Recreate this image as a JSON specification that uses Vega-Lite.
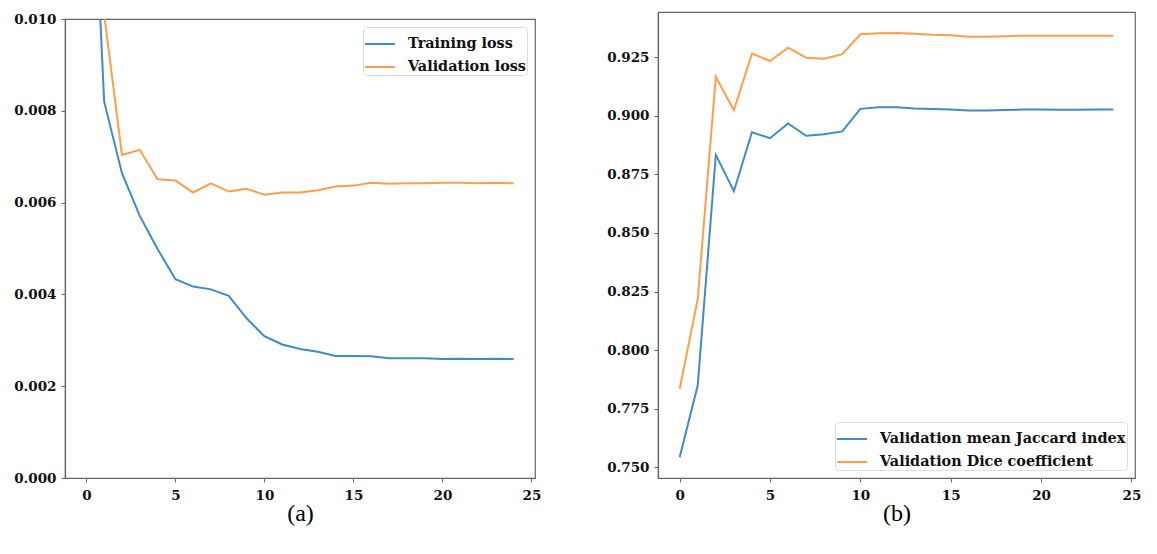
{
  "$schema": "https://vega.github.io/schema/vega-lite/v6.json",
  "padding": {"left": 13, "top": 11, "right": 0, "bottom": 0},
  "background": "white",
  "spacing": 64,
  "datasets": {
    "loss": [
      {"epoch": 0, "series": "Training loss", "value": 0.0165},
      {"epoch": 1, "series": "Training loss", "value": 0.0082},
      {"epoch": 2, "series": "Training loss", "value": 0.00664},
      {"epoch": 3, "series": "Training loss", "value": 0.00571},
      {"epoch": 4, "series": "Training loss", "value": 0.00499},
      {"epoch": 5, "series": "Training loss", "value": 0.00433},
      {"epoch": 6, "series": "Training loss", "value": 0.00417},
      {"epoch": 7, "series": "Training loss", "value": 0.00411},
      {"epoch": 8, "series": "Training loss", "value": 0.00397},
      {"epoch": 9, "series": "Training loss", "value": 0.00348},
      {"epoch": 10, "series": "Training loss", "value": 0.00309},
      {"epoch": 11, "series": "Training loss", "value": 0.00291},
      {"epoch": 12, "series": "Training loss", "value": 0.00281},
      {"epoch": 13, "series": "Training loss", "value": 0.00275},
      {"epoch": 14, "series": "Training loss", "value": 0.00266},
      {"epoch": 15, "series": "Training loss", "value": 0.00266},
      {"epoch": 16, "series": "Training loss", "value": 0.00265},
      {"epoch": 17, "series": "Training loss", "value": 0.00261},
      {"epoch": 18, "series": "Training loss", "value": 0.00261},
      {"epoch": 19, "series": "Training loss", "value": 0.00261},
      {"epoch": 20, "series": "Training loss", "value": 0.00259},
      {"epoch": 21, "series": "Training loss", "value": 0.0026},
      {"epoch": 22, "series": "Training loss", "value": 0.00259},
      {"epoch": 23, "series": "Training loss", "value": 0.0026},
      {"epoch": 24, "series": "Training loss", "value": 0.00259},
      {"epoch": 0, "series": "Validation loss", "value": 0.02},
      {"epoch": 1, "series": "Validation loss", "value": 0.0101},
      {"epoch": 2, "series": "Validation loss", "value": 0.00704},
      {"epoch": 3, "series": "Validation loss", "value": 0.00715},
      {"epoch": 4, "series": "Validation loss", "value": 0.00651},
      {"epoch": 5, "series": "Validation loss", "value": 0.00648},
      {"epoch": 6, "series": "Validation loss", "value": 0.00622},
      {"epoch": 7, "series": "Validation loss", "value": 0.00642},
      {"epoch": 8, "series": "Validation loss", "value": 0.00624},
      {"epoch": 9, "series": "Validation loss", "value": 0.0063},
      {"epoch": 10, "series": "Validation loss", "value": 0.00617},
      {"epoch": 11, "series": "Validation loss", "value": 0.00622},
      {"epoch": 12, "series": "Validation loss", "value": 0.00622},
      {"epoch": 13, "series": "Validation loss", "value": 0.00627},
      {"epoch": 14, "series": "Validation loss", "value": 0.00635},
      {"epoch": 15, "series": "Validation loss", "value": 0.00637},
      {"epoch": 16, "series": "Validation loss", "value": 0.00643},
      {"epoch": 17, "series": "Validation loss", "value": 0.00641},
      {"epoch": 18, "series": "Validation loss", "value": 0.00642},
      {"epoch": 19, "series": "Validation loss", "value": 0.00642},
      {"epoch": 20, "series": "Validation loss", "value": 0.00643},
      {"epoch": 21, "series": "Validation loss", "value": 0.00643},
      {"epoch": 22, "series": "Validation loss", "value": 0.00642},
      {"epoch": 23, "series": "Validation loss", "value": 0.00643},
      {"epoch": 24, "series": "Validation loss", "value": 0.00642}
    ],
    "metrics": [
      {"epoch": 0, "series": "Validation mean Jaccard index", "value": 0.7543},
      {"epoch": 1, "series": "Validation mean Jaccard index", "value": 0.785},
      {"epoch": 2, "series": "Validation mean Jaccard index", "value": 0.8833},
      {"epoch": 3, "series": "Validation mean Jaccard index", "value": 0.8678},
      {"epoch": 4, "series": "Validation mean Jaccard index", "value": 0.8929},
      {"epoch": 5, "series": "Validation mean Jaccard index", "value": 0.8904},
      {"epoch": 6, "series": "Validation mean Jaccard index", "value": 0.8967},
      {"epoch": 7, "series": "Validation mean Jaccard index", "value": 0.8914},
      {"epoch": 8, "series": "Validation mean Jaccard index", "value": 0.8921},
      {"epoch": 9, "series": "Validation mean Jaccard index", "value": 0.8933},
      {"epoch": 10, "series": "Validation mean Jaccard index", "value": 0.9029},
      {"epoch": 11, "series": "Validation mean Jaccard index", "value": 0.9036},
      {"epoch": 12, "series": "Validation mean Jaccard index", "value": 0.9036},
      {"epoch": 13, "series": "Validation mean Jaccard index", "value": 0.9031},
      {"epoch": 14, "series": "Validation mean Jaccard index", "value": 0.9028},
      {"epoch": 15, "series": "Validation mean Jaccard index", "value": 0.9026},
      {"epoch": 16, "series": "Validation mean Jaccard index", "value": 0.9022},
      {"epoch": 17, "series": "Validation mean Jaccard index", "value": 0.9022},
      {"epoch": 18, "series": "Validation mean Jaccard index", "value": 0.9024},
      {"epoch": 19, "series": "Validation mean Jaccard index", "value": 0.9026},
      {"epoch": 20, "series": "Validation mean Jaccard index", "value": 0.9026},
      {"epoch": 21, "series": "Validation mean Jaccard index", "value": 0.9025},
      {"epoch": 22, "series": "Validation mean Jaccard index", "value": 0.9025},
      {"epoch": 23, "series": "Validation mean Jaccard index", "value": 0.9026},
      {"epoch": 24, "series": "Validation mean Jaccard index", "value": 0.9026},
      {"epoch": 0, "series": "Validation Dice coefficient", "value": 0.7835},
      {"epoch": 1, "series": "Validation Dice coefficient", "value": 0.8218},
      {"epoch": 2, "series": "Validation Dice coefficient", "value": 0.9165},
      {"epoch": 3, "series": "Validation Dice coefficient", "value": 0.9023},
      {"epoch": 4, "series": "Validation Dice coefficient", "value": 0.9265},
      {"epoch": 5, "series": "Validation Dice coefficient", "value": 0.9233},
      {"epoch": 6, "series": "Validation Dice coefficient", "value": 0.929},
      {"epoch": 7, "series": "Validation Dice coefficient", "value": 0.9247},
      {"epoch": 8, "series": "Validation Dice coefficient", "value": 0.9243},
      {"epoch": 9, "series": "Validation Dice coefficient", "value": 0.9262},
      {"epoch": 10, "series": "Validation Dice coefficient", "value": 0.9347},
      {"epoch": 11, "series": "Validation Dice coefficient", "value": 0.9351},
      {"epoch": 12, "series": "Validation Dice coefficient", "value": 0.9352},
      {"epoch": 13, "series": "Validation Dice coefficient", "value": 0.9349},
      {"epoch": 14, "series": "Validation Dice coefficient", "value": 0.9345},
      {"epoch": 15, "series": "Validation Dice coefficient", "value": 0.9343},
      {"epoch": 16, "series": "Validation Dice coefficient", "value": 0.9337},
      {"epoch": 17, "series": "Validation Dice coefficient", "value": 0.9337},
      {"epoch": 18, "series": "Validation Dice coefficient", "value": 0.9339},
      {"epoch": 19, "series": "Validation Dice coefficient", "value": 0.9341},
      {"epoch": 20, "series": "Validation Dice coefficient", "value": 0.9341},
      {"epoch": 21, "series": "Validation Dice coefficient", "value": 0.9341},
      {"epoch": 22, "series": "Validation Dice coefficient", "value": 0.9341},
      {"epoch": 23, "series": "Validation Dice coefficient", "value": 0.9341},
      {"epoch": 24, "series": "Validation Dice coefficient", "value": 0.9341}
    ]
  },
  "hconcat": [
    {
      "spacing": -2,
      "vconcat": [
        {
          "width": 470,
          "height": 1,
          "data": {"values": []},
          "mark": {"type": "point"},
          "encoding": {},
          "view": {"stroke": null}
        },
        {
          "width": 470,
          "height": 459,
          "data": {"name": "loss"},
          "mark": {"type": "line", "strokeWidth": 2, "clip": true},
          "encoding": {
            "x": {
              "field": "epoch", "type": "quantitative",
              "scale": {"domain": [-1.2, 25.2], "nice": false, "zero": false},
              "axis": {"values": [0, 5, 10, 15, 20, 25], "title": "(a)"}
            },
            "y": {
              "field": "value", "type": "quantitative",
              "scale": {"domain": [0, 0.01], "nice": false},
              "axis": {"values": [0, 0.002, 0.004, 0.006, 0.008, 0.01], "format": ".3f", "title": null}
            },
            "color": {
              "field": "series", "type": "nominal",
              "scale": {"domain": ["Training loss", "Validation loss"], "range": ["#3f8bc4", "#ff9e4a"]},
              "legend": {"orient": "top-right", "title": null, "offset": 8}
            }
          }
        }
      ],
      "resolve": {"scale": {"color": "independent"}, "legend": {"color": "independent"}}
    },
    {
      "width": 477,
      "height": 466,
      "data": {"name": "metrics"},
      "mark": {"type": "line", "strokeWidth": 2, "clip": true},
      "encoding": {
        "x": {
          "field": "epoch", "type": "quantitative",
          "scale": {"domain": [-1.2, 25.2], "nice": false, "zero": false},
          "axis": {"values": [0, 5, 10, 15, 20, 25], "title": "(b)"}
        },
        "y": {
          "field": "value", "type": "quantitative",
          "scale": {"domain": [0.7455, 0.9442], "nice": false, "zero": false},
          "axis": {"values": [0.75, 0.775, 0.8, 0.825, 0.85, 0.875, 0.9, 0.925], "format": ".3f", "title": null}
        },
        "color": {
          "field": "series", "type": "nominal",
          "scale": {"domain": ["Validation mean Jaccard index", "Validation Dice coefficient"], "range": ["#3f8bc4", "#ff9e4a"]},
          "legend": {"orient": "bottom-right", "title": null, "offset": 8}
        }
      }
    }
  ],
  "resolve": {"scale": {"color": "independent"}, "legend": {"color": "independent"}},
  "config": {
    "view": {"stroke": "#666", "strokeWidth": 1.2},
    "axis": {
      "grid": false,
      "domainColor": "#666",
      "domainWidth": 1.2,
      "tickColor": "#666",
      "tickSize": 4,
      "labelFont": "DejaVu Serif",
      "labelFontWeight": "bold",
      "labelFontSize": 13.5,
      "labelColor": "#111",
      "labelPadding": 6,
      "titleFont": "Liberation Serif",
      "titleFontWeight": "normal",
      "titleFontSize": 24,
      "titleColor": "#000",
      "titlePadding": 0
    },
    "axisY": {"labelPadding": 5},
    "legend": {
      "labelFont": "DejaVu Serif",
      "labelFontWeight": "bold",
      "labelFontSize": 14.4,
      "labelColor": "#111",
      "labelLimit": 400,
      "symbolType": "stroke",
      "symbolSize": 900,
      "symbolStrokeWidth": 2,
      "rowPadding": -8,
      "padding": 1,
      "strokeColor": "#ddd",
      "fillColor": "white",
      "cornerRadius": 3,
      "labelOffset": 12
    }
  }
}
